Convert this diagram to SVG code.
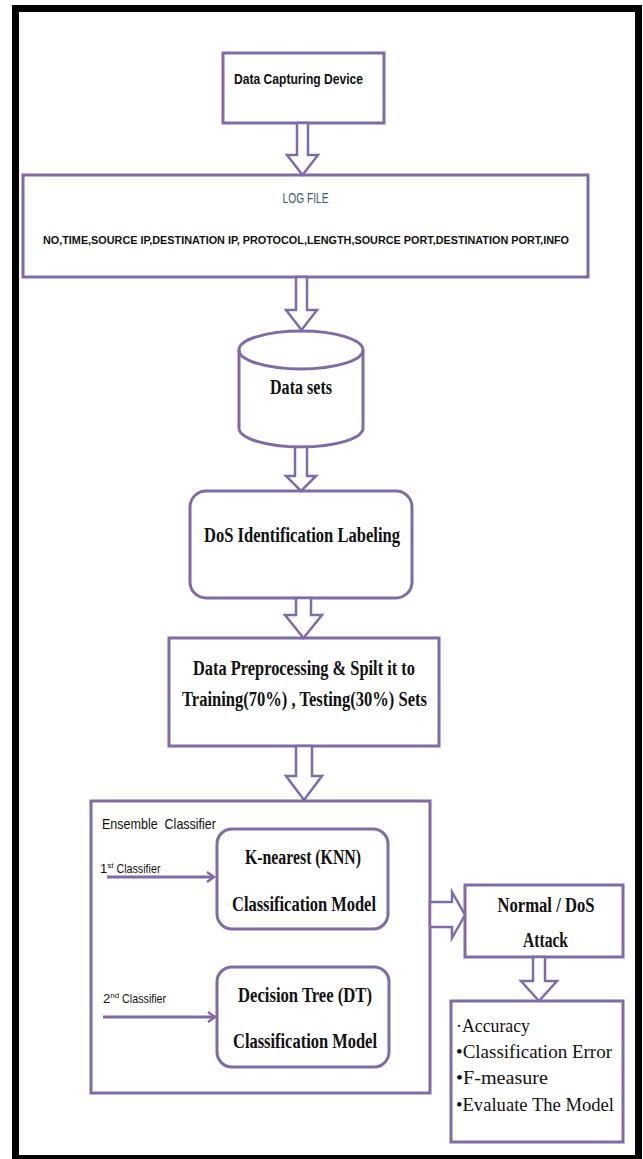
<svg xmlns="http://www.w3.org/2000/svg" width="643" height="1159" viewBox="0 0 643 1159">
<style>
.box{fill:#fff;stroke:#7f6ba6;stroke-width:3}
.blk{fill:#fff;stroke:#7f6ba6;stroke-width:2.5;stroke-linejoin:miter}
.ln{fill:none;stroke:#7f6ba6;stroke-width:3}
.sans{font-family:"Liberation Sans",Arial,sans-serif;fill:#111}
.serif{font-family:"Liberation Serif","Times New Roman",serif;fill:#111}
.b{font-weight:bold}
</style>
<defs>
<marker id="chev" markerWidth="10" markerHeight="12" refX="8" refY="6" orient="auto" markerUnits="userSpaceOnUse">
<path d="M1,1 L8,6 L1,11" fill="none" stroke="#7f6ba6" stroke-width="2.5"/>
</marker>
</defs>
<rect x="0" y="0" width="643" height="1159" fill="#fff"/>
<rect x="15.5" y="8.5" width="623" height="1150" fill="none" stroke="#000" stroke-width="7"/>

<g id="capture">
<rect class="box" x="223" y="53" width="161" height="70"/>
<text class="sans b" x="298.5" y="84" font-size="15.5" text-anchor="middle" textLength="129" lengthAdjust="spacingAndGlyphs">Data Capturing Device</text>
</g>

<g id="logfile">
<rect class="box" x="23" y="175" width="565" height="102"/>
<text class="sans" x="305.5" y="203" font-size="14" text-anchor="middle" style="fill:#3b5a6b" textLength="46" lengthAdjust="spacingAndGlyphs">LOG FILE</text>
<text class="sans b" x="306" y="244" font-size="11.5" text-anchor="middle" textLength="526" lengthAdjust="spacingAndGlyphs">NO,TIME,SOURCE IP,DESTINATION IP, PROTOCOL,LENGTH,SOURCE PORT,DESTINATION PORT,INFO</text>
</g>

<g id="datasets">
<path class="box" d="M239,350 L239,428 A62,19 0 0 0 363,428 L363,350 A62,19 0 0 0 239,350 Z"/>
<path class="ln" d="M239,350 A62,19 0 0 0 363,350"/>
<text class="serif b" x="301" y="394" font-size="20" text-anchor="middle" textLength="62" lengthAdjust="spacingAndGlyphs">Data sets</text>
</g>

<g id="labeling">
<rect class="box" x="190" y="491" width="222" height="107" rx="16"/>
<text class="serif b" x="302" y="542" font-size="20" text-anchor="middle" textLength="196" lengthAdjust="spacingAndGlyphs">DoS Identification Labeling</text>
</g>

<g id="preprocessing">
<rect class="box" x="169" y="638" width="270" height="108"/>
<text class="serif b" x="304" y="675" font-size="20" text-anchor="middle" textLength="222" lengthAdjust="spacingAndGlyphs">Data Preprocessing &amp; Spilt it to</text>
<text class="serif b" x="304.5" y="706" font-size="20" text-anchor="middle" textLength="245" lengthAdjust="spacingAndGlyphs">Training(70%) , Testing(30%) Sets</text>
</g>

<g id="ensemble">
<rect class="box" x="91" y="801" width="339" height="292"/>
<text class="sans" x="102" y="829" font-size="15" textLength="114" lengthAdjust="spacingAndGlyphs" xml:space="preserve">Ensemble  Classifier</text>
<text class="sans" x="100" y="873" font-size="13">1<tspan font-size="8" dy="-5">st</tspan><tspan dy="5" textLength="47" lengthAdjust="spacingAndGlyphs"> Classifier</tspan></text>
<text class="sans" x="103" y="1003" font-size="13">2<tspan font-size="8" dy="-5">nd</tspan><tspan dy="5" textLength="47" lengthAdjust="spacingAndGlyphs"> Classifier</tspan></text>
</g>

<g id="knn">
<rect class="box" x="217" y="829" width="171" height="100" rx="15"/>
<text class="serif b" x="303" y="864" font-size="20" text-anchor="middle" textLength="116" lengthAdjust="spacingAndGlyphs">K-nearest (KNN)</text>
<text class="serif b" x="304" y="911" font-size="20" text-anchor="middle" textLength="144" lengthAdjust="spacingAndGlyphs">Classification Model</text>
</g>

<g id="dt">
<rect class="box" x="217" y="967" width="172" height="100" rx="15"/>
<text class="serif b" x="305" y="1002" font-size="20" text-anchor="middle" textLength="134" lengthAdjust="spacingAndGlyphs">Decision Tree (DT)</text>
<text class="serif b" x="305" y="1048" font-size="20" text-anchor="middle" textLength="144" lengthAdjust="spacingAndGlyphs">Classification Model</text>
</g>

<g id="result">
<rect class="box" x="465" y="885" width="158" height="72"/>
<text class="serif b" x="546" y="912" font-size="20" text-anchor="middle" textLength="97" lengthAdjust="spacingAndGlyphs">Normal / DoS</text>
<text class="serif b" x="545.5" y="947" font-size="20" text-anchor="middle" textLength="45" lengthAdjust="spacingAndGlyphs">Attack</text>
</g>

<g id="metrics">
<rect class="box" x="451" y="1001" width="172" height="141"/>
<text class="serif" x="456" y="1032" font-size="19" textLength="74" lengthAdjust="spacingAndGlyphs">·Accuracy</text>
<text class="serif" x="456" y="1058" font-size="19" textLength="156" lengthAdjust="spacingAndGlyphs">•Classification Error</text>
<text class="serif" x="456" y="1084" font-size="19" textLength="92" lengthAdjust="spacingAndGlyphs">•F-measure</text>
<text class="serif" x="456" y="1111" font-size="19" textLength="158" lengthAdjust="spacingAndGlyphs">•Evaluate The Model</text>
</g>

<g id="connectors">
<path class="blk" d="M297,123 L308,123 L308,155 L318,155 L302.5,175 L287,155 L297,155 Z"/>
<path class="blk" d="M296,277 L307,277 L307,310 L317,310 L301.5,330 L286,310 L296,310 Z"/>
<path class="blk" d="M295,447 L307,447 L307,476 L316,476 L301,491 L286,476 L295,476 Z"/>
<path class="blk" d="M296,598 L311,598 L311,615 L322,615 L303.5,638 L285,615 L296,615 Z"/>
<path class="blk" d="M296,746 L312,746 L312,776 L322,776 L304,800 L286,776 L296,776 Z"/>
<path class="blk" d="M430,902 L452,902 L452,892 L465,915 L452,938 L452,927 L430,927 Z"/>
<path class="blk" d="M533,957 L545,957 L545,981 L557,981 L539,1001 L521,981 L533,981 Z"/>
<line class="ln" x1="107" y1="877" x2="214" y2="877" marker-end="url(#chev)"/>
<line class="ln" x1="103" y1="1017" x2="215" y2="1017" marker-end="url(#chev)"/>
</g>
</svg>
